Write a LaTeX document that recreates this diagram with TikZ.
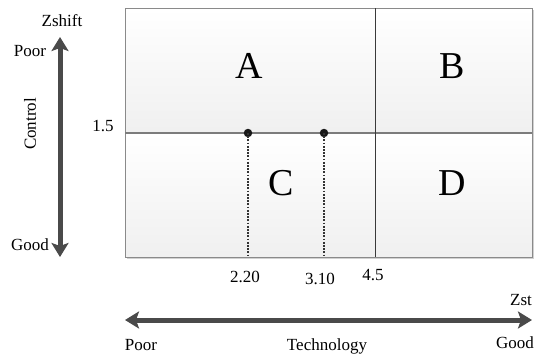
\documentclass[tikz,border=0pt]{standalone}
\usepackage{fontspec}
\setmainfont{Liberation Serif}
\usetikzlibrary{arrows.meta}
\definecolor{axisgray}{HTML}{4A4A4A}
\definecolor{framegray}{HTML}{8A8A8A}
\definecolor{divgray}{HTML}{3A3A3A}
\begin{document}
\begin{tikzpicture}[x=1pt,y=-1pt,
  lbl/.style={font=\fontsize{17}{20}\selectfont, inner sep=0pt},
  big/.style={font=\fontsize{38}{42}\selectfont, inner sep=0pt},
  axis/.style={line width=5pt, draw=axisgray,
    {Stealth[length=14pt,width=17pt,inset=3pt]}-{Stealth[length=14pt,width=17pt,inset=3pt]}},
  dot/.style={circle, fill=black!90, inner sep=0pt, minimum size=8.5pt},
  dropline/.style={line width=1.1pt, black!80, dash pattern=on 1.8pt off 1.4pt}]
\useasboundingbox (0,0) rectangle (536,354);

% panel shadow and shaded halves
\fill[black!18] (127,10) rectangle (534,259);
\shade[top color=white, bottom color=black!6] (125,8) rectangle (532,133);
\shade[top color=white, bottom color=black!6] (125,133) rectangle (532,257);
\draw[framegray, line width=1pt] (125,8) rectangle (532,257);

% dividers
\draw[framegray!90!black, line width=1.2pt] (125,133) -- (532,133);
\draw[divgray, line width=0.9pt] (375,8) -- (375,257);

% region letters
\node[big] (A) at (249,66) {A};
\node[big] (B) at (452,66) {B};
\node[big] (C) at (281,183) {C};
\node[big] (D) at (452,183) {D};

% threshold points with drop lines
\node[dot] (p1) at (248,133) {};
\node[dot] (p2) at (324,133) {};
\coordinate (q1) at (248,257);
\coordinate (q2) at (324,257);
\draw[dropline] (p1.center) -- (q1);
\draw[dropline] (p2.center) -- (q2);

% vertical axis
\coordinate (vtop) at (60,37);
\coordinate (vbot) at (60,257);
\draw[axis] (vbot) -- (vtop);
\node[lbl] (zshift) at (62,21) {Zshift};
\node[lbl] (vpoor) at (30,51) {Poor};
\node[lbl] (vgood) at (30,245) {Good};
\node[lbl, rotate=90] (control) at (30,124) {Control};
\node[lbl] (y15) at (103,126) {1.5};

% horizontal axis
\coordinate (hleft) at (125,320);
\coordinate (hright) at (532,320);
\draw[axis] (hleft) -- (hright);
\node[lbl] (x220) at (245,277) {2.20};
\node[lbl] (x310) at (320,279) {3.10};
\node[lbl] (x45) at (373,275) {4.5};
\node[lbl] (zst) at (521,300) {Zst};
\node[lbl] (hpoor) at (141,345) {Poor};
\node[lbl] (tech) at (327,346) {Technology};
\node[lbl] (hgood) at (515,343) {Good};
\end{tikzpicture}
\end{document}
